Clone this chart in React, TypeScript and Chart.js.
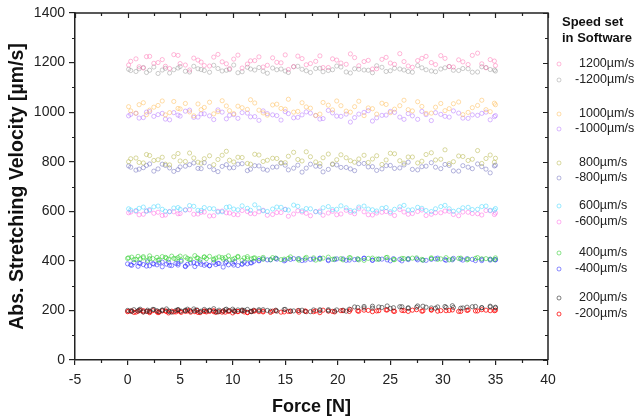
import React, { useEffect, useRef } from "react";
import { Chart, registerables } from "chart.js";

Chart.register(...registerables);

const FONT = "'Liberation Sans', Arial, sans-serif";

// Axis ticks
const xMajorTicks = [-5, 0, 5, 10, 15, 20, 25, 30, 35, 40];
const xMinorTicks = [-2.5, 2.5, 7.5, 12.5, 17.5, 22.5, 27.5, 32.5, 37.5];
const yMajorTicks = [0, 200, 400, 600, 800, 1000, 1200, 1400];
const yMinorTicks = [100, 300, 500, 700, 900, 1100, 1300];

// Force samples [N]
const forceA = [0.1, 0.8, 1.5, 2.1, 2.9, 3.6, 4.4, 5.0, 5.9, 6.7, 7.3, 8.2, 9.0, 9.7, 10.5, 11.4, 12.1, 12.9, 13.8, 14.6, 15.3, 16.2, 17.0, 17.9, 18.6, 19.5, 20.3, 21.2, 22.0, 22.9, 23.7, 24.6, 25.4, 26.3, 27.1, 28.0, 28.9, 29.8, 30.6, 31.5, 32.4, 33.3, 34.1, 34.9];
const forceB = [0.3, 1.1, 1.8, 2.5, 3.3, 4.0, 4.8, 5.5, 6.3, 7.0, 7.8, 8.6, 9.4, 10.1, 10.9, 11.7, 12.5, 13.3, 14.2, 15.0, 15.8, 16.6, 17.4, 18.3, 19.1, 19.9, 20.8, 21.6, 22.5, 23.3, 24.2, 25.0, 25.9, 26.7, 27.6, 28.4, 29.3, 30.2, 31.0, 31.9, 32.8, 33.7, 34.5, 35.0];
const forceC = [0.0, 0.4, 0.6, 1.0, 1.2, 1.5, 1.9, 2.1, 2.4, 2.8, 3.0, 3.3, 3.7, 3.9, 4.2, 4.6, 4.8, 5.1, 5.5, 5.7, 6.0, 6.4, 6.6, 6.9, 7.3, 7.5, 7.8, 8.2, 8.4, 8.7, 9.1, 9.3, 9.6, 10.0, 10.2, 10.5, 10.9, 11.1, 11.4, 11.8, 12.0,
  12.5, 12.9, 13.6, 14.1, 14.9, 15.5, 16.3, 16.9, 17.7, 18.3, 19.1, 19.7, 20.5, 21.1, 21.9, 22.5, 23.3, 23.9, 24.7, 25.3, 26.1, 26.7, 27.5, 28.1, 28.9, 29.5, 30.3, 30.9, 31.7, 32.3, 33.1, 33.7, 34.5, 35.0];

// Measured velocities [µm/s]
const v1200 = [1190, 1215, 1178, 1225, 1200, 1185, 1232, 1196, 1170, 1210, 1188, 1222, 1203, 1176, 1230, 1194, 1208, 1182, 1219, 1199, 1172, 1226, 1191, 1205, 1180, 1215, 1198, 1235, 1187, 1209, 1175, 1221, 1193, 1204, 1181, 1217, 1200, 1228, 1184, 1211, 1192, 1238, 1179, 1206];
const v1200b = [1205, 1183, 1224, 1197, 1212, 1176, 1229, 1190, 1218, 1202, 1186, 1233, 1195, 1214, 1178, 1207, 1223, 1189, 1201, 1231, 1184, 1216, 1196, 1227, 1180, 1210, 1193, 1220, 1204, 1174, 1213, 1198, 1236, 1186, 1208, 1225, 1192, 1217, 1182, 1203, 1229, 1195, 1212, 1188];
const vN1200 = [1168, 1175, 1160, 1182, 1170, 1158, 1178, 1165, 1185, 1172, 1161, 1176, 1169, 1190, 1163, 1174, 1180, 1157, 1171, 1166, 1183, 1173, 1160, 1177, 1168, 1186, 1162, 1175, 1170, 1159, 1181, 1167, 1174, 1164, 1188, 1171, 1163, 1179, 1169, 1176, 1161, 1183, 1172, 1166];
const vN1200b = [1173, 1164, 1180, 1169, 1156, 1177, 1171, 1184, 1162, 1175, 1168, 1189, 1166, 1172, 1159, 1181, 1170, 1165, 1178, 1174, 1160, 1185, 1167, 1176, 1163, 1171, 1182, 1158, 1173, 1169, 1187, 1164, 1177, 1170, 1161, 1179, 1166, 1174, 1184, 1168, 1175, 1162, 1180, 1170];
const v1000 = [1005, 1030, 990, 1020, 1045, 998, 1015, 1035, 985, 1010, 1040, 1002, 1025, 994, 1018, 1050, 1008, 988, 1032, 1012, 1000, 1038, 1016, 992, 1028, 1045, 1004, 1022, 986, 1014, 1036, 998, 1026, 1010, 1042, 995, 1020, 1006, 1034, 990, 1018, 1048, 1002, 1030];
const v1000b = [1022, 996, 1038, 1008, 1027, 989, 1043, 1013, 1001, 1033, 1019, 993, 1046, 1006, 1024, 1011, 1037, 997, 1029, 1015, 1052, 1003, 1021, 987, 1039, 1009, 1026, 1000, 1044, 1017, 992, 1031, 1012, 1048, 1005, 1023, 996, 1035, 1014, 1041, 999, 1027, 1010, 1036];
const vN1000 = [985, 995, 978, 1002, 990, 972, 998, 984, 1008, 980, 993, 970, 1000, 987, 975, 996, 982, 1005, 989, 968, 994, 979, 1001, 986, 974, 997, 983, 960, 992, 1006, 977, 988, 999, 971, 985, 1003, 966, 991, 980, 996, 975, 987, 1000, 982];
const vN1000b = [991, 976, 1000, 983, 995, 969, 988, 1004, 979, 993, 985, 1009, 973, 990, 998, 981, 967, 994, 986, 1002, 977, 989, 996, 972, 1007, 984, 992, 978, 999, 964, 987, 1003, 980, 994, 971, 990, 998, 983, 1005, 976, 989, 995, 969, 986];
const v800 = [800, 815, 795, 825, 808, 790, 820, 803, 835, 798, 812, 788, 826, 806, 818, 793, 830, 801, 814, 796, 822, 809, 840, 799, 816, 791, 828, 804, 811, 797, 824, 807, 832, 794, 819, 802, 836, 810, 792, 823, 805, 845, 813, 798];
const v800b = [812, 797, 829, 805, 818, 787, 833, 801, 815, 794, 824, 809, 842, 799, 817, 790, 827, 806, 813, 796, 838, 803, 820, 792, 831, 808, 816, 798, 826, 811, 789, 834, 804, 819, 795, 829, 807, 848, 800, 821, 810, 793, 827, 814];
const vN800 = [778, 770, 785, 762, 790, 775, 768, 782, 795, 772, 780, 760, 788, 776, 792, 770, 783, 766, 779, 786, 774, 758, 790, 781, 769, 787, 777, 764, 793, 780, 771, 785, 775, 798, 767, 782, 778, 789, 763, 784, 772, 780, 755, 786];
const vN800b = [783, 766, 776, 791, 771, 785, 761, 779, 788, 773, 796, 768, 781, 775, 790, 764, 784, 770, 778, 794, 767, 786, 774, 782, 759, 789, 777, 771, 792, 779, 765, 784, 773, 787, 769, 780, 796, 772, 785, 762, 778, 791, 770, 783];
const v600 = [605, 612, 600, 618, 608, 598, 615, 606, 620, 603, 611, 597, 616, 609, 622, 604, 613, 599, 617, 607, 625, 602, 610, 596, 619, 608, 614, 601, 621, 606, 612, 598, 618, 605, 616, 603, 610, 624, 600, 614, 607, 619, 604, 611];
const v600b = [610, 603, 617, 607, 621, 600, 613, 608, 623, 604, 615, 610, 598, 618, 606, 612, 626, 602, 609, 616, 605, 620, 611, 599, 614, 607, 622, 603, 617, 609, 601, 615, 608, 624, 606, 612, 599, 619, 610, 604, 616, 608, 621, 605];
const vN600 = [594, 600, 588, 603, 596, 585, 598, 591, 606, 589, 597, 582, 601, 593, 586, 599, 590, 604, 587, 595, 580, 602, 592, 598, 584, 600, 589, 596, 610, 586, 593, 599, 583, 597, 591, 605, 588, 594, 600, 582, 596, 590, 603, 587];
const vN600b = [597, 586, 602, 592, 583, 599, 590, 605, 588, 596, 581, 600, 594, 587, 603, 591, 598, 584, 595, 608, 589, 597, 582, 601, 593, 586, 604, 590, 598, 585, 596, 592, 607, 588, 599, 583, 594, 601, 587, 597, 591, 585, 602, 593];
const v400 = [410, 415, 405, 418, 408, 412, 402, 420, 409, 414, 404, 417, 411, 406, 419, 408, 413, 403, 416, 410, 407, 421, 412, 405, 415, 409, 418, 404, 411, 416, 407, 413, 420, 406, 410, 415, 402, 412, 417, 408, 411,
  409, 414, 405, 411, 407, 416, 403, 410, 412, 406, 415, 408, 404, 413, 409, 402, 411, 407, 414, 405, 410, 408, 412, 403, 409, 406, 413, 407, 411, 404, 410, 408, 406, 412];
const v400b = [412, 406, 417, 409, 403, 414, 410, 419, 405, 411, 416, 407, 413, 404, 418, 409, 412, 407, 413, 405, 410, 408, 414, 403, 411, 406, 409, 412, 404, 410, 407, 413, 405, 409, 411, 406, 412, 408, 404, 410, 407, 413, 409, 405];
const vN400 = [388, 382, 393, 378, 390, 385, 396, 380, 389, 384, 392, 376, 387, 394, 381, 390, 383, 398, 379, 386, 391, 377, 388, 395, 382, 387, 380, 393, 385, 389, 375, 392, 384, 390, 397, 381, 386, 394, 388, 392, 398,
  402, 408, 404, 410, 400, 406, 409, 403, 407, 411, 401, 405, 408, 403, 406, 410, 402, 407, 404, 409, 400, 405, 408, 403, 406, 411, 402, 404, 407, 409, 401, 406, 403, 405];
const vN400b = [384, 391, 379, 387, 395, 382, 389, 377, 393, 386, 381, 390, 396, 383, 388, 392,
  400, 404, 407, 403, 409, 401, 406, 410, 404, 408, 402, 405, 411, 403, 407, 400, 406, 409, 404, 402, 408, 405, 410, 403, 406, 401, 407, 404];
const v200 = [200, 196, 203, 198, 205, 194, 201, 197, 204, 199, 195, 202, 206, 198, 193, 200, 203, 197, 201, 205, 196, 199, 202, 194, 204, 198, 200, 207, 195, 201, 197, 203, 199, 205, 196, 202, 198, 200, 204, 195, 201,
  199, 203, 197, 201, 204, 198, 200, 196, 202, 199, 203, 197, 201, 205, 212, 216, 209, 214, 218, 211, 215, 208, 213, 217, 210, 214, 212, 219, 209, 213, 216, 211, 214, 210];
const v200b = [198, 202, 196, 204, 200, 195, 203, 199, 206, 197, 201, 194, 205, 199, 202, 196, 203, 200, 197, 204, 198, 201, 195, 203, 199, 202, 197,
  214, 210, 217, 212, 208, 215, 211, 218, 213, 209, 216, 212, 210, 215, 211, 217, 213];
const vN200 = [195, 198, 192, 197, 200, 194, 196, 191, 199, 195, 193, 198, 196, 190, 197, 194, 199, 192, 196, 198, 193, 195, 200, 191, 197, 194, 196, 199, 192, 195, 198, 193, 196, 190, 197, 195, 199, 194, 192, 196, 198,
  195, 197, 192, 199, 194, 196, 193, 198, 195, 191, 197, 194, 199, 196, 198, 201, 195, 199, 202, 197, 200, 196, 203, 198, 201, 197, 199, 202, 196, 200, 198, 203, 199, 201];
const vN200b = [197, 193, 199, 195, 191, 198, 194, 196, 200, 192, 197, 195, 193, 199, 196, 191, 198, 194, 197, 193, 196, 199, 195, 198, 201, 196, 199, 203, 197, 200, 198, 202, 196, 199, 201, 197, 203, 199, 200, 196, 202, 198, 201, 199];

const seriesLabels = ["1200µm/s", "-1200µm/s", "1000µm/s", "-1000µm/s", "800µm/s", "-800µm/s", "600µm/s", "-600µm/s", "400µm/s", "-400µm/s", "200µm/s", "-200µm/s"];
// each series: list of [forces, velocities] runs
const seriesRuns = [
  [[forceA, v1200], [forceB, v1200b]],
  [[forceB, vN1200], [forceA, vN1200b]],
  [[forceB, v1000], [forceA, v1000b]],
  [[forceA, vN1000], [forceB, vN1000b]],
  [[forceA, v800], [forceB, v800b]],
  [[forceB, vN800], [forceA, vN800b]],
  [[forceB, v600], [forceA, v600b]],
  [[forceA, vN600], [forceB, vN600b]],
  [[forceC, v400], [forceA, v400b]],
  [[forceC, vN400], [forceB, vN400b]],
  [[forceC, v200], [forceB, v200b]],
  [[forceC, vN200], [forceA, vN200b]],
];
const seriesColors = [
  "rgba(255,100,170,0.5)",
  "rgba(130,130,130,0.45)",
  "rgba(255,185,80,0.55)",
  "rgba(170,100,255,0.5)",
  "rgba(185,185,80,0.6)",
  "rgba(105,105,185,0.55)",
  "rgba(70,215,255,0.6)",
  "rgba(255,80,225,0.5)",
  "rgba(40,205,40,0.6)",
  "rgba(40,40,255,0.6)",
  "rgba(40,40,40,0.65)",
  "rgba(255,0,0,0.85)",
];
const legendY = [64, 80, 114, 129, 163, 178, 206, 222, 253, 269, 298, 314];

const framePlugin = {
  id: "frame",
  afterDraw(chart: any) {
    const { ctx, chartArea, scales } = chart;
    const { left, right, top, bottom } = chartArea;
    const x = scales.x;
    const y = scales.y;
    ctx.save();
    ctx.strokeStyle = "#222";
    ctx.lineWidth = 1.5;
    ctx.beginPath();
    ctx.moveTo(left, top);
    ctx.lineTo(right, top);
    ctx.lineTo(right, bottom);
    ctx.stroke();
    ctx.lineWidth = 1.2;
    ctx.beginPath();
    for (const v of xMajorTicks) {
      const p = Math.round(x.getPixelForValue(v)) + 0.5;
      ctx.moveTo(p, top);
      ctx.lineTo(p, top + 5);
    }
    for (const v of xMinorTicks) {
      const p = Math.round(x.getPixelForValue(v)) + 0.5;
      ctx.moveTo(p, top);
      ctx.lineTo(p, top + 3);
      ctx.moveTo(p, bottom);
      ctx.lineTo(p, bottom + 3);
    }
    for (const v of yMajorTicks) {
      const p = Math.round(y.getPixelForValue(v)) + 0.5;
      ctx.moveTo(right, p);
      ctx.lineTo(right - 5, p);
    }
    for (const v of yMinorTicks) {
      const p = Math.round(y.getPixelForValue(v)) + 0.5;
      ctx.moveTo(right, p);
      ctx.lineTo(right - 3, p);
      ctx.moveTo(left, p);
      ctx.lineTo(left - 3, p);
    }
    ctx.stroke();

    // Legend
    ctx.fillStyle = "#111";
    ctx.textBaseline = "middle";
    ctx.textAlign = "left";
    ctx.font = `bold 13px ${FONT}`;
    ctx.fillText("Speed set", 562, 22);
    ctx.fillText("in Software", 562, 38);
    ctx.font = `12.5px ${FONT}`;
    seriesLabels.forEach((lab, i) => {
      const yy = legendY[i];
      ctx.strokeStyle = seriesColors[i];
      ctx.lineWidth = 0.9;
      ctx.beginPath();
      ctx.arc(559, yy, 2, 0, Math.PI * 2);
      ctx.stroke();
      ctx.fillStyle = "#222";
      ctx.fillText(lab, lab.startsWith("-") ? 575 : 579, yy);
    });
    ctx.restore();
  },
};

export default function App() {
  const ref = useRef<HTMLCanvasElement>(null);
  useEffect(() => {
    const datasets = seriesLabels.map((lab, i) => ({
      label: lab,
      data: seriesRuns[i].flatMap(([fs, vs]) => fs.map((f, j) => ({ x: f, y: vs[j] }))),
      borderColor: seriesColors[i],
      backgroundColor: "rgba(0,0,0,0)",
      pointRadius: 2.1,
      pointBorderWidth: 0.9,
      showLine: false,
    }));
    const chart = new Chart(ref.current as HTMLCanvasElement, {
      type: "scatter",
      data: { datasets },
      options: {
        animation: false,
        responsive: true,
        maintainAspectRatio: false,
        layout: { padding: { top: 13, right: 90, left: 0, bottom: 0 } },
        plugins: { legend: { display: false }, tooltip: { enabled: false } },
        scales: {
          x: {
            type: "linear",
            min: -5,
            max: 40,
            afterFit: (s: any) => { s.height = 59; },
            ticks: { stepSize: 5, color: "#222", font: { family: FONT, size: 14 }, padding: 7, maxRotation: 0, callback: (v: any) => String(v) },
            grid: { drawOnChartArea: false, drawTicks: true, tickLength: 5, color: "#222", lineWidth: 1.2 },
            border: { display: true, color: "#222", width: 1.5 },
            title: { display: true, text: "Force [N]", color: "#111", font: { family: FONT, size: 18, weight: "bold" }, padding: { top: 0, bottom: 1 } },
          },
          y: {
            type: "linear",
            min: 0,
            max: 1400,
            afterFit: (s: any) => { s.width = 75; },
            ticks: { stepSize: 200, color: "#222", font: { family: FONT, size: 14 }, padding: 4, callback: (v: any) => String(v) },
            grid: { drawOnChartArea: false, drawTicks: true, tickLength: 6, color: "#222", lineWidth: 1.2 },
            border: { display: true, color: "#222", width: 1.5 },
            title: { display: true, text: "Abs. Stretching Velocity [µm/s]", color: "#111", font: { family: FONT, size: 19.5, weight: "bold" }, padding: { top: 6, bottom: 6 } },
          },
        },
      },
      plugins: [framePlugin],
    });
    return () => chart.destroy();
  }, []);
  return (
    <div style={{ position: "fixed", left: 0, top: 0, width: 638, height: 419, background: "#fff" }}>
      <canvas ref={ref} />
    </div>
  );
}
